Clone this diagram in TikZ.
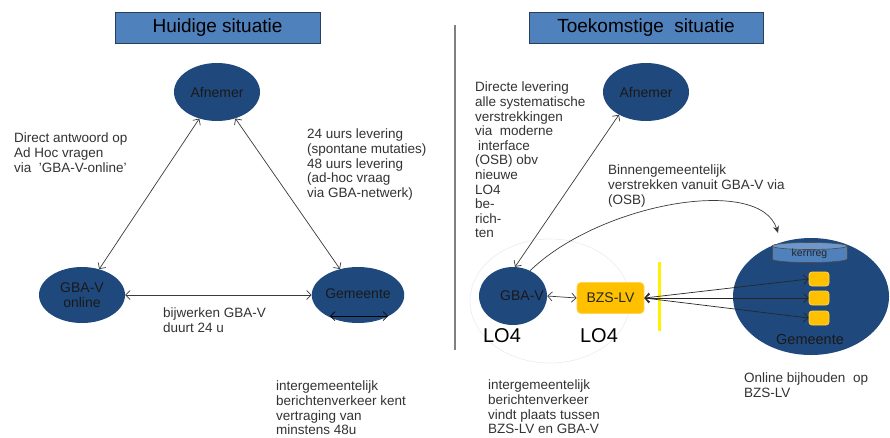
\documentclass[tikz,border=0pt]{standalone}
\usepackage{fontspec}
\setmainfont{Liberation Sans}
\usetikzlibrary{arrows.meta,shapes.geometric}
\definecolor{navy}{HTML}{1F497D}
\definecolor{titlefill}{HTML}{4F81BD}
\definecolor{titledraw}{HTML}{2A3F5C}
\definecolor{txt}{HTML}{333333}
\definecolor{arrc}{HTML}{3A3A3A}
\definecolor{orng}{HTML}{FFC000}
\definecolor{orngb}{HTML}{FFD34D}
\definecolor{kbody}{HTML}{4F81BD}
\definecolor{ktop}{HTML}{6E97CB}
\tikzset{
  ell/.style={ellipse, fill=navy, draw=none, inner sep=0pt, text=black!90,
    font=\fontsize{14}{15}\selectfont, align=center},
  titlebox/.style={rectangle, fill=titlefill, draw=titledraw, line width=0.8pt,
    text=black, font=\fontsize{19}{21}\selectfont},
  body/.style={anchor=north west, inner sep=0pt, align=left, text=txt,
    font=\fontsize{13.5}{14.6}\selectfont},
  dbl/.style={draw=arrc, line width=0.7pt,
    {Straight Barb[length=4.5pt,width=9pt]}-{Straight Barb[length=4.5pt,width=9pt]}},
  orbox/.style={rectangle, rounded corners=4pt, fill=orng, draw=orngb, line width=0.8pt},
  lofont/.style={inner sep=0pt, text=black, font=\fontsize{20}{22}\selectfont},
}
\begin{document}
\begin{tikzpicture}[x=1pt,y=-1pt]
\useasboundingbox[fill=white] (0,0) rectangle (890,437);

% titles
\node[titlebox, minimum width=205pt, minimum height=31pt] (t1) at (217.5,27.5) {Huidige situatie};
\node[titlebox, minimum width=234pt, minimum height=31pt] (t2) at (646,27.5) {Toekomstige\ \ situatie};

% separator
\draw[gray, line width=1.2pt] (455,25) -- (455,350);

% ---------- left: current situation ----------
\node[ell, minimum width=86pt, minimum height=58pt] (afn1) at (217,92) {Afnemer};
\node[ell, minimum width=86pt, minimum height=56pt] (gba1) at (82,295) {GBA-V\\online};
\node[ell, minimum width=86pt, minimum height=56pt] (gem1) at (358,295) {\raisebox{3pt}{Gemeente}};

\draw[dbl] (gba1) -- (afn1);
\draw[dbl] (gem1) -- (afn1);
\draw[dbl] (gba1) -- (gem1);
\coordinate (g1a) at (330,316);
\coordinate (g1b) at (388,316);
\draw[dbl, draw=black] (g1a) -- (g1b);

\node[body] (l1) at (14,133) {Direct antwoord op\\Ad Hoc vragen\\via\ \ 'GBA-V-online'};
\node[body] (l2) at (307,129) {24 uurs levering\\(spontane mutaties)\\48 uurs levering\\(ad-hoc vraag\\via GBA-netwerk)};
\node[body] (l3) at (163,308) {bijwerken GBA-V\\duurt 24 u};
\node[body] (l4) at (276,381) {intergemeentelijk\\berichtenverkeer kent\\vertraging van\\minstens 48u};

% ---------- right: future situation ----------
\draw[gray!15, line width=0.6pt] (550,301) ellipse [x radius=80, y radius=62];

\node[ell, minimum width=86pt, minimum height=58pt] (afn2) at (646,92) {Afnemer};
\node[ell, minimum width=68pt, minimum height=58pt] (gba2) at (513,296) {};
\node[inner sep=0pt, text=black!90, font=\fontsize{14}{15}\selectfont] (gba2t) at (522,296) {GBA-V};
\node[orbox, minimum width=67pt, minimum height=31pt, inner sep=0pt,
  text=black!85, font=\fontsize{14}{15}\selectfont] (bzs) at (610.5,298) {BZS-LV};
\node[ell, minimum width=156pt, minimum height=117pt] (gem2) at (811,296.5) {};
\node[inner sep=0pt, text=black!90, font=\fontsize{14.5}{16}\selectfont] (gem2t) at (810,339) {Gemeente};

% kernreg cylinder
\filldraw[fill=kbody, draw=black!70, line width=0.6pt] (809.5,259) ellipse [x radius=37.5, y radius=3.5];
\fill[kbody] (772,246) rectangle (847,259);
\draw[black!70, line width=0.6pt] (772,246) -- (772,259) (847,246) -- (847,259);
\filldraw[fill=ktop, draw=black!70, line width=0.6pt] (809.5,246) ellipse [x radius=37.5, y radius=3.5];
\node[inner sep=0pt, text=black!85, font=\fontsize{10.5}{12}\selectfont] (kern) at (809.5,253.5) {kernreg};

% small boxes
\node[orbox, rounded corners=3pt, minimum width=20pt, minimum height=14pt, inner sep=0pt] (sq1) at (819,279) {};
\node[orbox, rounded corners=3pt, minimum width=20pt, minimum height=14pt, inner sep=0pt] (sq2) at (819,298) {};
\node[orbox, rounded corners=3pt, minimum width=20pt, minimum height=14pt, inner sep=0pt] (sq3) at (819,318) {};

% yellow bar
\draw[yellow, line width=3pt] (659,262) -- (659,331);

% connectors
\draw[dbl] (gba2.86) -- (afn2.220);
\draw[dbl] (gba2.east) -- (bzs.west);
\draw[dbl, draw=black!85] (bzs.east) -- (sq1.west);
\draw[dbl, draw=black!85] (bzs.east) -- (sq2.west);
\draw[dbl, draw=black!85] (bzs.east) -- (sq3.west);
\coordinate (cend) at (778,233);
\draw[draw=arrc, line width=0.7pt, -{Stealth[length=7pt,width=6pt]}]
  (gba2.56) .. controls (600,203) and (760,175) .. (cend);

% LO4 labels
\node[lofont] (lo1) at (502,335.5) {LO4};
\node[lofont] (lo2) at (599,335.5) {LO4};

% texts right
\node[body] (r1) at (475,82) {Directe levering\\alle systematische\\verstrekkingen\\via\ \ moderne\\\hspace{3pt}interface\\(OSB) obv\\nieuwe\\LO4\\be-\\rich-\\ten};
\node[body] (r2) at (608,165) {Binnengemeentelijk\\verstrekken vanuit GBA-V via\\(OSB)};
\node[body] (r3) at (488,380) {intergemeentelijk\\berichtenverkeer\\vindt plaats tussen\\BZS-LV en GBA-V};
\node[body] (r4) at (744,373) {Online bijhouden\ \ op\\BZS-LV};
\end{tikzpicture}
\end{document}
